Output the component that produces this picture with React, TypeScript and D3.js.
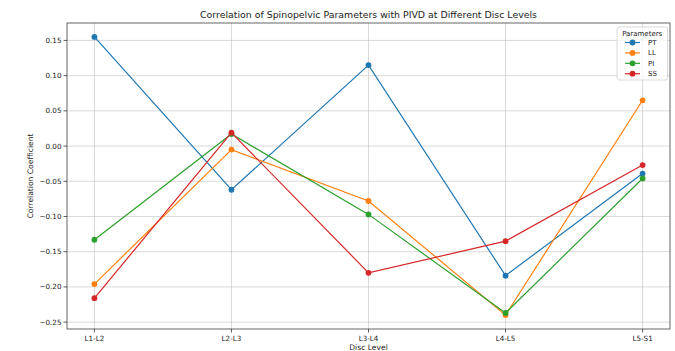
import * as d3 from "d3";
import { useEffect } from "react";

const levels = ["L1-L2", "L2-L3", "L3-L4", "L4-L5", "L5-S1"];
const paramNames = ["PT", "LL", "PI", "SS"];
const ptValues = [0.155, -0.062, 0.115, -0.184, -0.039];
const llValues = [-0.196, -0.005, -0.078, -0.24, 0.065];
const piValues = [-0.133, 0.017, -0.097, -0.237, -0.046];
const ssValues = [-0.216, 0.019, -0.18, -0.135, -0.027];
const yTicks = [0.15, 0.1, 0.05, 0.0, -0.05, -0.1, -0.15, -0.2, -0.25];

const colors = ["#1f77b4", "#ff7f0e", "#2ca02c", "#d62728"];

const W = 675;
const H = 351;
const margin = { left: 67, right: 5, top: 23, bottom: 22 };

export default function App() {
    useEffect(() => {
        document.body.style.margin = "0";
    }, []);

    const series = [ptValues, llValues, piValues, ssValues].map((v, i) => ({
        key: paramNames[i],
        color: colors[i],
        values: v,
    }));

    const all = series.flatMap((s) => s.values);
    const [lo, hi] = d3.extent(all) as [number, number];
    const pad = (hi - lo) * 0.05;

    // index axis with a matplotlib-like 5% margin
    const x = d3
        .scaleLinear()
        .domain([-0.2, levels.length - 1 + 0.2])
        .range([margin.left, W - margin.right]);
    const y = d3
        .scaleLinear()
        .domain([lo - pad, hi + pad])
        .range([H - margin.bottom, margin.top]);

    const line = d3
        .line<number>()
        .x((d, i) => x(i))
        .y((d) => y(d));

    const font = "'DejaVu Sans', sans-serif";
    const plotL = margin.left;
    const plotR = W - margin.right;
    const plotT = margin.top;
    const plotB = H - margin.bottom;

    const legX = 617;
    const legY = 27;

    return (
        <svg width={W} height={H} style={{ display: "block", background: "#fff" }} fontFamily={font}>
            {/* grid */}
            <g stroke="#b0b0b0" strokeOpacity={0.6} strokeWidth={0.8}>
                {yTicks.map((t) => (
                    <line key={t} x1={plotL} x2={plotR} y1={y(t)} y2={y(t)} />
                ))}
                {levels.map((l, i) => (
                    <line key={l} x1={x(i)} x2={x(i)} y1={plotT} y2={plotB} />
                ))}
            </g>
            {/* series */}
            {series.map((s) => (
                <g key={s.key}>
                    <path d={line(s.values) ?? ""} fill="none" stroke={s.color} strokeWidth={1.2} />
                    {s.values.map((v, i) => (
                        <circle key={i} cx={x(i)} cy={y(v)} r={2.9} fill={s.color} />
                    ))}
                </g>
            ))}
            {/* frame */}
            <rect x={plotL} y={plotT} width={plotR - plotL} height={plotB - plotT} fill="none" stroke="#555" strokeWidth={0.9} />
            {/* y axis */}
            <g fontSize={7.2} fill="#222" textAnchor="end">
                {yTicks.map((t) => (
                    <g key={t}>
                        <line x1={plotL - 3.5} x2={plotL} y1={y(t)} y2={y(t)} stroke="#333" strokeWidth={0.8} />
                        <text x={plotL - 5.5} y={y(t)} dy="0.34em">
                            {d3.format(".2f")(t).replace("-", "\u2212")}
                        </text>
                    </g>
                ))}
            </g>
            {/* x axis */}
            <g fontSize={7.2} fill="#222" textAnchor="middle">
                {levels.map((l, i) => (
                    <g key={l}>
                        <line x1={x(i)} x2={x(i)} y1={plotB} y2={plotB + 3.5} stroke="#333" strokeWidth={0.8} />
                        <text x={x(i)} y={plotB + 11.5}>
                            {l}
                        </text>
                    </g>
                ))}
            </g>
            <text x={(plotL + plotR) / 2} y={H - 1.5} fontSize={7.6} textAnchor="middle" fill="#222">
                Disc Level
            </text>
            <text
                transform={`translate(33,${(plotT + plotB) / 2}) rotate(-90)`}
                fontSize={7.6}
                textAnchor="middle"
                fill="#222"
            >
                Correlation Coefficient
            </text>
            <text x={(plotL + plotR) / 2} y={18} fontSize={9.4} textAnchor="middle" fill="#222">
                Correlation of Spinopelvic Parameters with PIVD at Different Disc Levels
            </text>
            {/* legend */}
            <g>
                <rect x={legX} y={legY} width={50.5} height={53} rx={2} fill="#fff" fillOpacity={0.8} stroke="#d0d0d0" strokeWidth={0.8} />
                <text x={legX + 25.2} y={legY + 8.5} fontSize={7} textAnchor="middle" fill="#222">
                    Parameters
                </text>
                {series.map((s, i) => {
                    const cy = legY + 15.5 + i * 10.4;
                    return (
                        <g key={s.key}>
                            <line x1={legX + 8} x2={legX + 23} y1={cy} y2={cy} stroke={s.color} strokeWidth={1.2} />
                            <circle cx={legX + 15.5} cy={cy} r={2.9} fill={s.color} />
                            <text x={legX + 31} y={cy} dy="0.34em" fontSize={7} fill="#222">
                                {s.key}
                            </text>
                        </g>
                    );
                })}
            </g>
        </svg>
    );
}
